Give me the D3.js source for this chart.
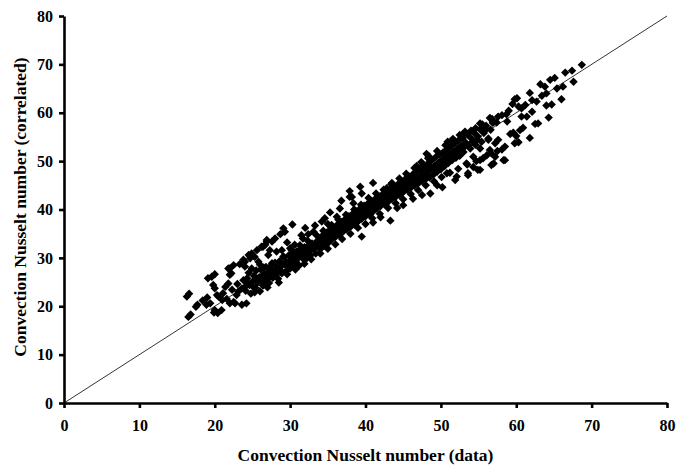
<!DOCTYPE html>
<html>
<head>
<meta charset="utf-8">
<script src="https://cdn.jsdelivr.net/npm/d3@7"></script>
<style>
body { margin: 0; background: #fff; }
</style>
</head>
<body>
<script>
// canvas and plot area
const width = 688,
height = 467,
plotLeft = 64,
plotRight = 667,
plotTop = 16,
plotBottom = 403;

const xTicks = [0, 10, 20, 30, 40, 50, 60, 70, 80];
const yTicks = [0, 10, 20, 30, 40, 50, 60, 70, 80];

// [Nu data, Nu correlated], grouped by part of the cloud
const lowTail = [
	[16.3,22.0],[16.6,22.6],[16.5,17.8],[16.8,18.3],[17.5,19.9],[17.7,20.3],[18.9,20.3],[19.4,20.6],
	[20.0,19.2],[19.9,18.7],[19.1,25.8],[19.6,26.1],[20.0,26.6],[19.8,24.4],[20.0,23.7],[20.5,22.0],
	[20.3,22.3],[21.1,22.7],[21.4,24.0],[21.8,24.7],[22.0,26.5],[22.2,26.8],[21.8,27.8],[22.5,20.9],
	[22.0,20.6],[22.7,20.6],[22.9,22.3],[23.1,23.0],[23.6,23.7],[24.0,24.0],[23.8,25.4],[24.2,25.1],
	[24.0,29.2],[23.8,29.6],[24.7,29.9],[25.3,30.2],[22.0,27.8],[22.5,28.5],[23.3,28.7],[24.0,28.2],
	[20.4,18.6],[20.9,19.2],[24.2,20.6],[23.6,20.3],[21.0,21.3],[21.6,21.5],[22.3,23.4],[23.0,24.6],
	[18.4,21.2],[19.0,21.8]
];

const upperBand = [
	[24.9,30.9],[24.5,30.6],[25.6,31.6],[26.2,32.3],[26.7,32.7],[26.9,33.7],[26.4,32.3],[26.9,33.4],
	[27.6,33.4],[28.0,34.0],[28.7,34.9],[29.3,35.4],[29.1,36.1],[30.3,36.9],[27.3,31.6],[27.1,30.6],
	[28.2,31.3],[28.9,31.6],[30.0,32.0],[30.6,32.7],[31.5,34.7],[31.7,34.0],[33.1,35.4],[33.3,36.7],
	[34.2,37.5],[34.6,38.2],[35.3,39.4],[36.2,38.5],[36.6,40.2],[36.8,41.8],[37.9,42.6],[37.9,43.8],
	[38.2,42.6],[38.4,41.3],[39.3,44.7],[39.5,43.3],[41.0,45.5],[42.8,44.4],[43.5,45.5],[46.8,49.0],
	[48.1,51.5],[48.3,50.6],[25.8,29.2],[26.0,28.6],[29.6,33.2],[32.4,34.9],[32.0,36.2],[35.0,37.0]
];

const core = [
	[24.1,23.2],[24.3,25.8],[24.5,26.9],[24.6,24.4],[24.8,22.6],[25.0,25.1],[25.2,26.3],[25.4,23.8],
	[25.5,27.4],[25.7,24.9],[25.9,26.0],[26.0,23.1],[26.1,27.6],[26.3,25.2],[26.4,24.3],[26.6,26.7],
	[26.8,28.1],[26.9,25.6],[27.1,27.0],[27.2,24.8],[27.4,26.2],[27.5,28.4],[27.7,25.9],[27.9,27.3],
	[28.0,29.0],[28.1,26.4],[28.3,28.0],[28.4,25.7],[28.6,29.3],[28.7,27.5],[28.9,26.8],[29.0,28.6],
	[29.2,30.1],[29.4,27.2],[29.5,29.0],[29.7,28.1],[29.8,30.5],[30.0,27.8],[30.1,29.4],[30.3,31.0],
	[30.4,28.5],[30.6,30.2],[30.8,29.1],[30.9,31.4],[31.1,30.0],[31.2,28.4],[31.4,31.8],[31.6,30.6],
	[31.8,29.7],[31.9,32.2],[32.1,31.0],[32.2,29.9],[32.4,32.5],[32.6,31.4],[32.7,30.5],[32.9,33.0],
	[33.1,31.9],[33.2,32.8],[33.4,30.9],[33.6,33.5],[33.7,32.3],[33.9,34.1],[34.0,31.8],[34.2,33.2],
	[34.3,34.6],[34.5,32.5],[34.7,33.9],[34.8,35.2],[35.0,33.0],[35.2,34.5],[35.3,35.8],[35.5,33.8],
	[35.7,35.1],[35.8,36.3],[36.0,34.3],[36.2,35.6],[36.3,36.9],[36.5,34.8],[36.7,36.2],[36.8,37.4],
	[37.0,35.4],[37.2,36.7],[37.3,38.0],[37.5,35.9],[37.7,37.3],[37.8,38.6],[38.0,36.4],[38.2,37.8],
	[38.3,39.1],[38.5,36.9],[38.7,38.3],[38.8,39.6],[39.0,37.5],[39.2,38.9],[39.3,40.2],[39.5,38.1],
	[39.7,39.5],[39.8,40.8],[40.0,38.6],[40.2,39.9],[40.3,41.2],[40.5,39.0],[40.7,40.4],[40.8,41.7],
	[41.0,39.6],[41.2,40.9],[41.3,42.2],[41.5,40.2],[41.7,41.5],[41.8,42.7],[42.0,40.7],[42.2,42.0],
	[42.3,43.2],[42.5,41.1],[42.7,42.5],[42.8,43.7],[43.0,41.6],[43.2,42.9],[43.3,44.2],[43.5,42.2],
	[43.7,43.5],[43.8,44.7],[44.0,42.6],[44.2,44.0],[44.3,45.2],[44.5,43.0],[44.7,44.5],[44.8,45.8],
	[45.0,43.6],[45.2,44.9],[45.3,46.3],[45.5,44.1],[45.7,45.5],[45.8,46.8],[46.0,44.5],[46.2,46.0],
	[46.3,47.3],[46.5,44.9],[46.7,46.5],[46.8,47.9],[47.0,45.4],[47.2,46.9],[47.3,48.4],[47.5,45.9],
	[47.7,47.6],[47.8,49.0],[48.0,46.3],[48.2,48.1],[48.3,49.5],[48.5,46.6],[48.7,48.7],[48.8,50.2],
	[49.0,47.2],[49.2,49.1],[49.3,50.8],[49.5,47.8],[49.7,49.7],[49.8,51.3],[50.0,48.3],[50.2,50.3],
	[50.3,51.8],[50.5,49.0],[50.7,50.9],[50.8,52.4],[51.0,49.6],[51.2,51.5],[51.3,53.0],[51.5,50.2],
	[51.7,52.0],[51.8,53.6],[52.0,50.7],[52.2,52.5],[52.3,54.2],[52.5,51.1],[52.7,53.2],[52.8,54.8],
	[53.0,51.9],[53.3,53.8],[53.6,55.4],[53.9,52.6],[54.1,54.6],[54.4,55.9],[54.6,53.4],[54.9,55.1],
	[55.2,56.6],[55.4,54.0],[55.7,55.8],[56.0,57.3],[56.3,54.7],[56.6,56.5],[56.9,57.9]
];

const coreCenter = [
	[24.4,24.6],[25.1,24.0],[25.6,25.7],[26.2,26.1],[26.7,25.1],[27.3,27.8],[27.8,26.6],[28.2,27.1],
	[28.8,28.3],[29.3,28.7],[29.9,29.2],[30.5,29.7],[31.0,30.8],[31.5,31.1],[32.0,31.6],[32.5,32.0],
	[33.0,32.4],[33.5,33.1],[34.1,33.6],[34.6,34.0],[35.1,34.8],[35.6,35.2],[36.1,35.9],[36.6,36.0],
	[37.1,37.0],[37.6,37.0],[38.1,37.9],[38.6,38.0],[39.1,38.5],[39.6,39.2],[40.1,39.8],[40.6,40.0],
	[41.1,40.6],[41.6,41.1],[42.1,41.5],[42.6,42.0],[43.1,42.4],[43.6,43.0],[44.1,43.5],[44.6,44.1],
	[45.1,44.4],[45.6,45.0],[46.1,45.6],[46.6,46.1],[47.1,46.4],[47.6,47.1],[48.1,47.5],[48.6,48.2],
	[49.1,48.5],[49.6,49.2],[50.1,49.6],[50.6,50.2],[51.1,50.9],[51.6,51.3],[52.1,51.8],[52.6,52.5],
	[53.1,52.9],[53.6,53.3],[54.2,54.0],[54.8,54.4]
];

const coreEdges = [
	[24.9,27.8],[25.3,22.9],[26.5,28.0],[27.0,23.9],[27.6,28.9],[28.5,24.9],[29.1,30.3],[29.6,26.6],
	[30.2,31.6],[30.7,27.6],[31.3,32.6],[31.9,28.8],[32.3,33.6],[32.8,29.7],[33.5,34.7],[34.0,30.9],
	[34.4,35.6],[35.0,31.9],[35.5,36.8],[36.0,32.8],[36.4,37.9],[36.9,33.9],[37.4,38.9],[38.0,35.0],
	[38.5,40.0],[39.0,36.2],[39.4,41.0],[40.0,37.0],[40.4,42.4],[40.9,38.2],[41.4,43.3],[41.9,39.1],
	[42.4,44.1],[43.0,40.3],[43.4,45.2],[44.0,41.3],[44.5,46.4],[45.0,42.1],[45.4,47.4],[46.0,43.2],
	[46.5,48.6],[47.0,44.0],[47.4,49.8],[48.0,45.0],[48.4,51.0],[49.1,45.8],[49.5,52.1],[50.1,46.7],
	[50.6,53.3],[51.2,47.6],[51.6,54.3],[52.3,48.4],[53.0,55.6],[53.5,49.3],[54.0,56.3],[54.7,50.0],
	[55.5,57.6],[56.1,51.2],[56.8,58.7],[57.5,52.1]
];

const lowerBand = [
	[50.8,47.5],[52.1,46.8],[51.9,46.1],[53.6,47.5],[55.2,48.2],[54.9,48.2],[57.0,49.5],[56.7,49.2],
	[58.5,50.2],[57.2,50.9],[56.5,52.3],[55.2,52.6],[55.2,50.2],[54.3,50.9],[58.5,53.0],[58.1,52.4],
	[59.2,55.6],[57.6,54.4],[56.3,54.4],[53.6,47.1],[53.4,49.5],[54.3,48.8],[55.6,50.6],[58.3,50.2],
	[56.7,51.6],[57.2,53.7],[59.8,53.7],[60.3,53.9],[61.8,54.8],[60.5,56.4],[60.9,56.9],[62.5,57.7],
	[62.9,57.8],[64.3,59.0],[61.4,59.2],[62.1,60.2],[60.7,59.2],[60.0,55.2],[59.6,55.9],[48.6,43.3],
	[47.5,43.0],[45.0,40.9],[43.3,37.7],[39.5,34.4],[49.5,45.0],[50.2,44.6],[46.3,42.2],[44.2,40.3],
	[42.0,38.4],[41.0,37.3]
];

const upperRight = [
	[68.7,69.9],[67.4,68.7],[66.5,68.3],[65.1,67.2],[64.5,66.8],[63.2,65.9],[63.8,65.4],[61.8,64.1],
	[60.1,63.0],[60.7,60.9],[62.1,62.6],[62.7,62.3],[63.4,63.5],[64.0,64.0],[65.4,65.0],[66.2,65.4],
	[67.6,66.4],[66.0,62.8],[64.0,61.5],[64.7,61.7],[61.2,61.6],[59.8,62.8],[59.0,60.4],[58.1,59.5],
	[57.6,59.2],[58.7,59.7],[60.3,61.3],[56.9,58.1],[56.5,58.9],[55.2,57.8],[53.2,56.1],[55.6,57.1],
	[57.4,58.0],[56.0,56.6],[54.6,56.8],[58.8,58.2],[59.5,61.8],[52.5,55.4],[52.9,54.8],[51.6,54.6],
	[50.9,54.0]
];

const points = [].concat(lowTail, upperBand, core, coreCenter, coreEdges, lowerBand, upperRight);

let xScale = d3.scaleLinear().domain([0, 80]).range([plotLeft, plotRight]);
let yScale = d3.scaleLinear().domain([0, 80]).range([plotBottom, plotTop]);

let svg = d3.select("body")
	.append("svg")
	.attr("width", width)
	.attr("height", height)
	.style("font-family", "'Liberation Serif', 'Times New Roman', serif")
	.style("font-weight", "bold");

// the 1:1 line
svg.append("line")
	.attr("x1", xScale(0))
	.attr("y1", yScale(0))
	.attr("x2", xScale(80))
	.attr("y2", yScale(80))
	.attr("stroke", "#000")
	.attr("stroke-width", 0.8);

// diamond markers
svg.append("g")
	.selectAll("path")
	.data(points)
	.enter()
	.append("path")
	.attr("d", "M0,-4.2L4.2,0L0,4.2L-4.2,0Z")
	.attr("transform", d => "translate(" + xScale(d[0]) + "," + yScale(d[1]) + ")")
	.attr("fill", "#000");

// axes
let xAxis = svg.append("g")
	.attr("transform", "translate(0," + plotBottom + ")")
	.call(d3.axisBottom(xScale).tickValues(xTicks).tickSize(5).tickSizeOuter(0).tickPadding(12));

let yAxis = svg.append("g")
	.attr("transform", "translate(" + plotLeft + ",0)")
	.call(d3.axisLeft(yScale).tickValues(yTicks).tickSize(5).tickSizeOuter(0).tickPadding(6));

[xAxis, yAxis].forEach(a => {
	a.select(".domain").attr("stroke", "#000").attr("stroke-width", 2.6);
	a.selectAll(".tick line").attr("stroke", "#000").attr("stroke-width", 2.6);
	a.selectAll(".tick text")
		.attr("fill", "#000")
		.style("font-family", "'Liberation Serif', 'Times New Roman', serif")
		.style("font-weight", "bold")
		.style("font-size", "16px");
});

// axis titles
svg.append("text")
	.attr("x", (plotLeft + plotRight) / 2)
	.attr("y", 461)
	.attr("text-anchor", "middle")
	.style("font-size", "17.5px")
	.text("Convection Nusselt number (data)");

svg.append("text")
	.attr("transform", "translate(26," + 207 + ") rotate(-90)")
	.attr("text-anchor", "middle")
	.style("font-size", "17.5px")
	.text("Convection Nusselt number (correlated)");
</script>
</body>
</html>
